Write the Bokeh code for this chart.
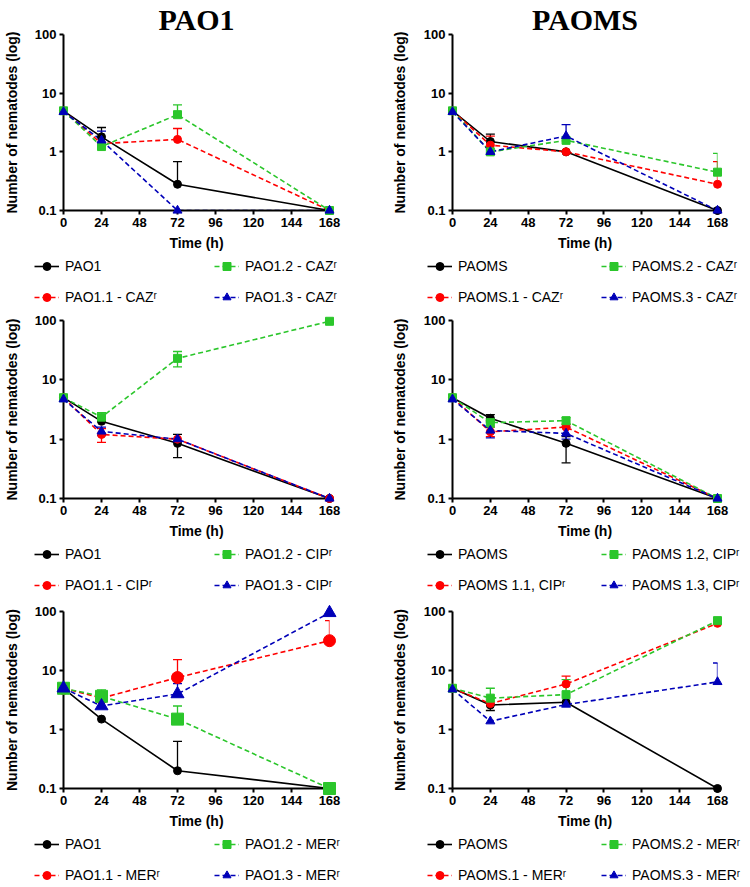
from bokeh.plotting import figure
from bokeh.models import (ColumnDataSource, Whisker, TeeHead, Legend, LegendItem,
                          FixedTicker, Range1d, CustomJSTickFormatter)
from bokeh.layouts import column, row
from bokeh.embed import file_html
from bokeh.resources import INLINE

# ---------------- data ----------------
TIME = [0, 24, 72, 168]
X_TICKS = [0, 24, 48, 72, 96, 120, 144, 168]
Y_TICKS = [0.1, 1, 10, 100]
TITLES = ["PAO1", "PAOMS"]

# Ceftazidime, PAO1 background
caz1_labels = ["PAO1", "PAO1.1 - CAZʳ", "PAO1.2 - CAZʳ", "PAO1.3 - CAZʳ"]
caz1_mean = [[5, 1.8, 0.28, 0.1], [5, 1.38, 1.63, 0.1], [5, 1.23, 4.3, 0.1], [4.8, 1.57, 0.1, 0.1]]
caz1_hi = [[5, 2.6, 0.68, 0.1], [5, 1.38, 2.5, 0.1], [5, 1.23, 6.3, 0.1], [4.8, 2.25, 0.1, 0.1]]
caz1_lo = caz1_mean

# Ceftazidime, PAOMS background
caz2_labels = ["PAOMS", "PAOMS.1 - CAZʳ", "PAOMS.2 - CAZʳ", "PAOMS.3 - CAZʳ"]
caz2_mean = [[5, 1.5, 1.0, 0.1], [5, 1.3, 1.0, 0.28], [5, 1.0, 1.57, 0.45], [4.8, 1.0, 1.86, 0.1]]
caz2_hi = [[5, 2.0, 1.0, 0.1], [5, 1.85, 1.0, 0.68], [5, 1.0, 1.57, 0.94], [4.8, 1.0, 2.9, 0.1]]
caz2_lo = caz2_mean

# Ciprofloxacin, PAO1 background
cip1_labels = ["PAO1", "PAO1.1 - CIPʳ", "PAO1.2 - CIPʳ", "PAO1.3 - CIPʳ"]
cip1_mean = [[5, 2.0, 0.85, 0.1], [5, 1.2, 1.0, 0.1], [5, 2.35, 23, 97], [4.7, 1.35, 1.0, 0.1]]
cip1_hi = [[5, 2.0, 1.2, 0.1], [5, 1.5, 1.0, 0.1], [5, 2.8, 30, 97], [4.7, 1.6, 1.0, 0.1]]
cip1_lo = [[5, 2.0, 0.49, 0.1], [5, 0.88, 1.0, 0.1], [5, 1.95, 16.5, 97], [4.7, 1.15, 1.0, 0.1]]

# Ciprofloxacin, PAOMS background
cip2_labels = ["PAOMS", "PAOMS 1.1, CIPʳ", "PAOMS 1.2, CIPʳ", "PAOMS 1.3, CIPʳ"]
cip2_mean = [[5, 2.25, 0.85, 0.1], [5, 1.33, 1.6, 0.1], [5, 1.9, 2.05, 0.1], [4.7, 1.4, 1.25, 0.1]]
cip2_hi = [[5, 2.6, 1.1, 0.1], [5, 1.6, 1.75, 0.1], [5, 2.1, 2.3, 0.1], [4.7, 1.9, 1.6, 0.1]]
cip2_lo = [[5, 2.0, 0.4, 0.1], [5, 1.1, 1.6, 0.1], [5, 1.6, 1.8, 0.1], [4.7, 1.05, 1.0, 0.1]]

# Meropenem, PAO1 background
mer1_labels = ["PAO1", "PAO1.1 - MERʳ", "PAO1.2 - MERʳ", "PAO1.3 - MERʳ"]
mer1_mean = [[5, 1.5, 0.2, 0.1], [5, 3.4, 7.6, 32], [5, 3.65, 1.5, 0.1], [5, 2.5, 4.0, 95]]
mer1_hi = [[5, 1.5, 0.63, 0.1], [5, 3.4, 15.3, 70], [5, 4.7, 2.5, 0.1], [5, 2.5, 6.0, 95]]
mer1_lo = mer1_mean

# Meropenem, PAOMS background
mer2_labels = ["PAOMS", "PAOMS.1 - MERʳ", "PAOMS.2 - MERʳ", "PAOMS.3 - MERʳ"]
mer2_mean = [[5, 2.6, 2.9, 0.1], [5, 2.75, 5.9, 63], [5, 3.4, 3.9, 70], [4.8, 1.38, 2.65, 6.4]]
mer2_hi = [[5, 2.6, 2.9, 0.1], [5, 2.75, 8.0, 63], [5, 5.0, 7.0, 70], [4.8, 1.38, 2.65, 13.4]]
mer2_lo = [[5, 2.1, 2.9, 0.1], [5, 2.75, 5.9, 63], [5, 3.4, 3.9, 70], [4.8, 1.38, 2.65, 6.4]]

# ---------------- styles ----------------
COLORS = ["#000000", "#FF0000", "#2BC62B", "#0000B8"]
MARKERS = ["circle", "circle", "square", "triangle"]
DASHES = ["solid", "5 3", "5 3", "5 3"]
FONT = "Liberation Sans"

# (figure height, border_top, border_bottom)
ROWS = [(255, 34, 45), (235, 12, 45), (237, 15, 45)]
LEG_H = 53


def marker_size(i, big):
    if big and i > 0:
        return 12 if i != 3 else 13
    return 8 if i != 3 else 9


def make_panel(mean, hi, lo, left, row_i, title=None, big=False):
    H, bt, bb = ROWS[row_i]
    W = 375
    bl = 62 if left else 77
    br = 46 if left else 33
    p = figure(width=W, height=H, x_range=Range1d(0, 168), y_range=Range1d(0.1, 100),
               y_axis_type="log", output_backend="svg", toolbar_location=None, tools="",
               min_border_left=bl, min_border_right=br, min_border_top=bt, min_border_bottom=bb)
    p.outline_line_color = None
    p.grid.visible = False

    if title:
        p.title.text = title
        p.title.align = "center"
        p.title.text_font = "Liberation Serif"
        p.title.text_font_style = "bold"
        p.title.text_font_size = "30px"
        p.title.text_color = "black"
        p.title.standoff = -2

    p.xaxis.ticker = FixedTicker(ticks=X_TICKS)
    p.yaxis.ticker = FixedTicker(ticks=Y_TICKS)
    p.yaxis.formatter = CustomJSTickFormatter(code="return String(Math.round(tick*10)/10);")
    for ax in (p.xaxis[0], p.yaxis[0]):
        ax.axis_line_width = 2
        ax.major_tick_line_width = 2
        ax.major_tick_out = 4
        ax.major_tick_in = 0
        ax.minor_tick_line_color = None
        ax.major_label_text_font = FONT
        ax.major_label_text_font_style = "bold"
        ax.major_label_text_font_size = "13px"
        ax.major_label_text_color = "black"
        ax.major_label_standoff = 3
        ax.axis_label_text_font = FONT
        ax.axis_label_text_font_style = "bold"
        ax.axis_label_text_font_size = "14px"
        ax.axis_label_text_color = "black"
    p.xaxis.axis_label = "Time (h)"
    p.xaxis.axis_label_standoff = 5
    p.yaxis.axis_label = "Number of nematodes (log)"
    p.yaxis.axis_label_standoff = 12 if left else 13

    for i in range(4):
        c = COLORS[i]
        src = ColumnDataSource(dict(x=TIME, y=mean[i]))
        up = [(t, m, h) for t, m, h in zip(TIME, mean[i], hi[i]) if h > m]
        dn = [(t, m, l) for t, m, l in zip(TIME, mean[i], lo[i]) if l < m]
        if up:
            s = ColumnDataSource(dict(x=[u[0] for u in up], m=[u[1] for u in up], h=[u[2] for u in up]))
            p.add_layout(Whisker(source=s, base="x", lower="m", upper="h", dimension="height",
                                 line_color=c, line_width=1.3, lower_head=None,
                                 upper_head=TeeHead(size=9, line_color=c, line_width=1.3)))
        if dn:
            s = ColumnDataSource(dict(x=[u[0] for u in dn], m=[u[1] for u in dn], l=[u[2] for u in dn]))
            p.add_layout(Whisker(source=s, base="x", lower="l", upper="m", dimension="height",
                                 line_color=c, line_width=1.3, upper_head=None,
                                 lower_head=TeeHead(size=9, line_color=c, line_width=1.3)))
        p.line("x", "y", source=src, line_color=c, line_width=1.6, line_dash=DASHES[i])
        p.scatter("x", "y", source=src, marker=MARKERS[i], size=marker_size(i, big), fill_color=c,
                  line_color=c, level="overlay")
    return p


def make_legend(labels, mean, left, big=False):
    # Legend-only strip: the series are plotted against ranges that keep them out of view,
    # so only the legend entries (line + marker swatches and labels) are visible.
    q = figure(width=375, height=LEG_H, x_range=Range1d(-1000, -999), y_range=Range1d(-1000, -999),
               output_backend="svg", toolbar_location=None, tools="",
               x_axis_location=None, y_axis_location=None,
               min_border_left=0, min_border_right=0, min_border_top=0, min_border_bottom=0)
    q.outline_line_color = None
    q.grid.visible = False
    items = []
    for i in range(4):
        c = COLORS[i]
        src = ColumnDataSource(dict(x=TIME, y=mean[i]))
        lr = q.line("x", "y", source=src, line_color=c, line_width=1.6, line_dash=DASHES[i])
        sr = q.scatter("x", "y", source=src, marker=MARKERS[i], size=marker_size(i, big),
                       fill_color=c, line_color=c)
        items.append(LegendItem(label=labels[i], renderers=[lr, sr]))
    legend = Legend(items=items, location=(34 if left else 52, 0), orientation="vertical", nrows=2,
                    glyph_width=25, glyph_height=20, label_height=22,
                    label_width=140 if left else 134,
                    label_standoff=6, spacing=9, padding=0, margin=0,
                    border_line_color=None, background_fill_alpha=0,
                    label_text_font=FONT, label_text_font_size="14px",
                    label_text_color="black")
    q.add_layout(legend, "center")
    return q


p1 = make_panel(caz1_mean, caz1_hi, caz1_lo, True, 0, TITLES[0])
p2 = make_panel(caz2_mean, caz2_hi, caz2_lo, False, 0, TITLES[1])
l1 = make_legend(caz1_labels, caz1_mean, True)
l2 = make_legend(caz2_labels, caz2_mean, False)
p3 = make_panel(cip1_mean, cip1_hi, cip1_lo, True, 1)
p4 = make_panel(cip2_mean, cip2_hi, cip2_lo, False, 1)
l3 = make_legend(cip1_labels, cip1_mean, True)
l4 = make_legend(cip2_labels, cip2_mean, False)
p5 = make_panel(mer1_mean, mer1_hi, mer1_lo, True, 2, big=True)
p6 = make_panel(mer2_mean, mer2_hi, mer2_lo, False, 2)
l5 = make_legend(mer1_labels, mer1_mean, True, big=True)
l6 = make_legend(mer2_labels, mer2_mean, False)

layout = column(row(p1, p2), row(l1, l2), row(p3, p4), row(l3, l4), row(p5, p6), row(l5, l6))
open("out.html", "w").write(file_html(layout, INLINE))
